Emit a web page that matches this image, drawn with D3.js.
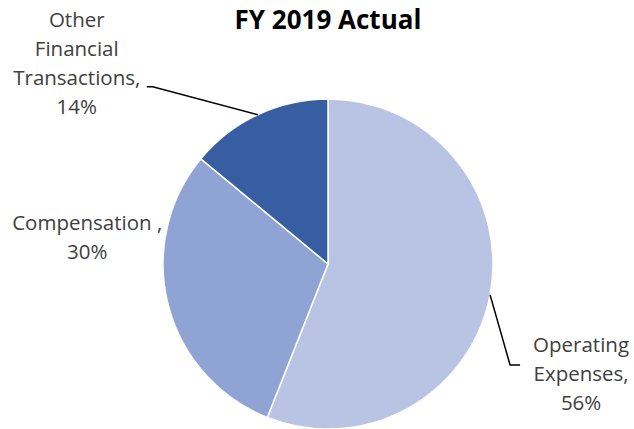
<!DOCTYPE html>
<html>
<head>
<meta charset="utf-8">
<script src="https://cdn.jsdelivr.net/npm/d3@7"></script>
<style>
body { margin: 0; background: #fff; }
text { font-family: "Open Sans", sans-serif; font-variant-ligatures: none; }
</style>
</head>
<body>
<svg id="chart" width="634" height="429"></svg>
<script>
// data
const categories = ["Operating Expenses", "Compensation", "Other Financial Transactions"];
const values = [56, 30, 14];
const labelLines = [["Operating", "Expenses,", "56%"], ["Compensation ,", "30%"], ["Other", "Financial", "Transactions,", "14%"]];
const colors = ["#B9C3E3", "#8FA3D4", "#365EA1"];

const svg = d3.select('#chart');
const cx = 328, cy = 264, r = 165;

svg.append('text').text('FY 2019 Actual')
  .attr('x', cx).attr('y', 29)
  .attr('text-anchor', 'middle')
  .attr('font-size', 26).attr('font-weight', 'bold').attr('fill', '#000');

const pie = d3.pie().sort(null).value(d => d);
const arcs = pie(values);
const arc = d3.arc().innerRadius(0).outerRadius(r);

const g = svg.append('g').attr('transform', 'translate(' + cx + ',' + cy + ')');
g.selectAll('path').data(arcs).enter().append('path')
  .attr('d', arc)
  .attr('fill', (d, i) => colors[i])
  .attr('stroke', '#fff').attr('stroke-width', 1.5);

// point on the rim at the middle of a slice
function rim(d) {
  const a = (d.startAngle + d.endAngle) / 2;
  return [r * Math.sin(a), -r * Math.cos(a)];
}

// label placement (offsets from the rim point)
const labelPos = [
  { dx: 91, dy: 57, line: [[20, 70], [30, 70]], anchor: 'middle' },
  { dx: -81, dy: -75, line: null, anchor: 'middle' },
  { dx: -181, dy: -88, line: [[-105, -28], [-111, -28]], anchor: 'middle' }
];
const lh = 29;

arcs.forEach((d, i) => {
  const p = rim(d);
  const lp = labelPos[i];
  if (lp.line) {
    const pts = [p].concat(lp.line.map(o => [p[0] + o[0], p[1] + o[1]]));
    g.append('path').attr('d', d3.line()(pts))
      .attr('fill', 'none').attr('stroke', '#000').attr('stroke-width', 1.5);
  }
  const t = g.append('text')
    .attr('text-anchor', lp.anchor)
    .attr('font-size', 20.5).attr('fill', '#404040');
  labelLines[i].forEach((s, k) => {
    t.append('tspan').text(s)
      .attr('x', p[0] + lp.dx)
      .attr('y', p[1] + lp.dy + k * lh);
  });
});
</script>
</body>
</html>
